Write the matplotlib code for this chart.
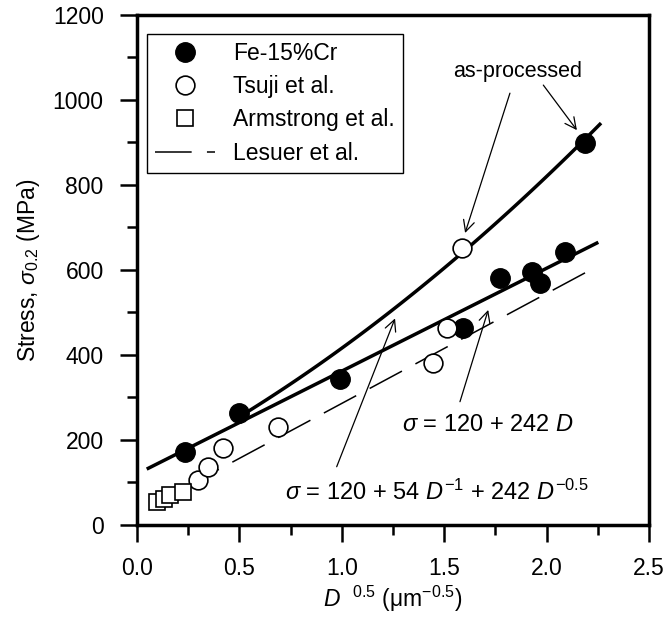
import matplotlib
matplotlib.use("Agg")
import matplotlib.pyplot as plt
import numpy as np
from matplotlib.ticker import MultipleLocator

plt.rcParams['font.family'] = ['Liberation Sans', 'DejaVu Sans']
plt.rcParams['mathtext.fontset'] = 'custom'
plt.rcParams['mathtext.rm'] = 'Liberation Sans'
plt.rcParams['mathtext.it'] = 'Liberation Sans:italic'
plt.rcParams['mathtext.default'] = 'regular'

# Fe-15%Cr (filled)
fe_x = [0.234, 0.50, 0.99, 1.594, 1.772, 1.927, 1.968, 2.09, 2.187]
fe_y = [172, 263, 343, 463, 580, 596, 569, 643, 898]
# Tsuji et al. (open circles)
ts_x = [0.30, 0.348, 0.421, 0.69, 1.447, 1.512, 1.585]
ts_y = [106, 137, 180, 231, 380, 463, 651]
# Armstrong et al. (squares)
ar_x = [0.096, 0.13, 0.16, 0.223]
ar_y = [55, 62, 70, 78]
# Lesuer et al. dashed line end points
les_x = [0.242, 2.245]
les_y = [90, 608]

# fits
a0, a1, a2 = 120, 242, 54
x_lin = np.linspace(0.055, 2.245, 50)
y_lin = a0 + a1 * x_lin
x_cur = np.linspace(0.50, 2.26, 80)
y_cur = a0 + a2 * x_cur**2 + a1 * x_cur

fs = 16.5

fig = plt.figure(figsize=(6.67, 6.29), dpi=100)
ax = fig.add_axes([0.2054, 0.1654, 0.7676, 0.8108])

ax.plot(x_cur, y_cur, color='black', lw=2.5)
ax.plot(x_lin, y_lin, color='black', lw=2.5)
ax.plot(les_x, les_y, color='black', lw=1.1, dashes=(24, 10), dash_capstyle='butt',
        label='Lesuer et al.')

ax.plot(fe_x, fe_y, 'o', ms=14, mfc='black', mec='black', ls='none', label='Fe-15%Cr')
ax.plot(ts_x, ts_y, 'o', ms=13.5, mfc='white', mec='black', mew=1.2, ls='none', label='Tsuji et al.')
ax.plot(ar_x, ar_y, 's', ms=12, mfc='white', mec='black', mew=1.2, ls='none', label='Armstrong et al.')

arrow = dict(arrowstyle='->', color='black', lw=0.9, mutation_scale=20, shrinkA=0, shrinkB=0)
ax.text(1.86, 1066, 'as-processed', fontsize=fs - 1, ha='center', va='center')
ax.annotate('', xy=(1.602, 687), xytext=(1.821, 1016), arrowprops=arrow)
ax.annotate('', xy=(2.148, 929), xytext=(1.984, 1035), arrowprops=arrow)

ax.annotate('', xy=(1.715, 506), xytext=(1.577, 290), arrowprops=arrow)
ax.text(1.714, 236, r'$\it{\sigma}$ = 120 + 242 $\it{D}$', fontsize=fs + 0.5,
        ha='center', va='center')
ax.annotate('', xy=(1.26, 486), xytext=(0.975, 137), arrowprops=arrow)
ax.text(1.465, 78, r'$\it{\sigma}$ = 120 + 54 $\it{D}^{-1}$ + 242 $\it{D}^{-0.5}$',
        fontsize=fs + 0.5, ha='center', va='center')

ax.set_xlim(0, 2.5)
ax.set_ylim(0, 1200)
ax.xaxis.set_major_locator(MultipleLocator(0.5))
ax.xaxis.set_minor_locator(MultipleLocator(0.25))
ax.yaxis.set_major_locator(MultipleLocator(200))
ax.yaxis.set_minor_locator(MultipleLocator(100))
ax.xaxis.set_major_formatter(plt.FuncFormatter(lambda v, p: f'{v:.1f}'))
ax.tick_params(which='major', direction='out', length=12, width=1.8, labelsize=fs)
ax.tick_params(axis='y', which='major', pad=12)
ax.tick_params(axis='x', which='major', pad=11)
ax.tick_params(which='minor', direction='out', length=7, width=1.8)
for s in ax.spines.values():
    s.set_linewidth(2.5)

ax.set_xlabel(r'$\it{D}$  $^{0.5}$ (μm$^{-0.5}$)', fontsize=fs, labelpad=3)
ax.set_ylabel(r'Stress, $\it{\sigma}_{0.2}$ (MPa)', fontsize=fs, labelpad=8)

h, l = ax.get_legend_handles_labels()
order = [1, 2, 3, 0]
leg = ax.legend([h[i] for i in order], [l[i] for i in order], loc='upper left',
                bbox_to_anchor=(0.0195, 0.963), borderaxespad=0, fontsize=fs,
                frameon=True, fancybox=False, edgecolor='black', framealpha=1,
                handlelength=2.6, handletextpad=0.8, borderpad=0.35, labelspacing=0.45)
leg.get_frame().set_linewidth(1.0)

fig.savefig('out.png', dpi=100)
